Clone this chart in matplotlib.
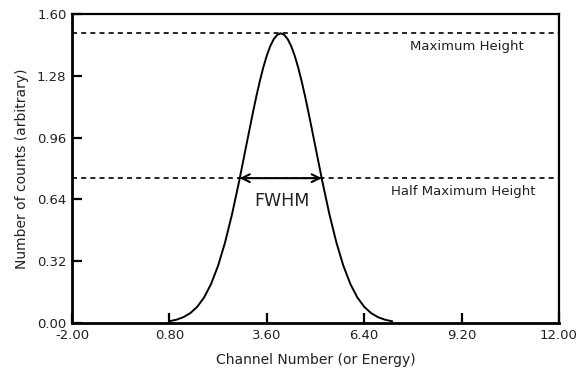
import matplotlib
matplotlib.use('Agg')
import matplotlib.pyplot as plt

plt.rcParams['font.family'] = ['DejaVu Sans']

# peak shape
channel = [0.8, 1.0, 1.2, 1.4, 1.6, 1.8, 2.0, 2.2, 2.4, 2.6, 2.8, 3.0, 3.2, 3.3, 3.4, 3.5,
           3.6, 3.7, 3.8, 3.9, 4.0, 4.1, 4.2, 4.3, 4.4, 4.5, 4.6, 4.7, 4.8, 5.0, 5.2, 5.4,
           5.6, 5.8, 6.0, 6.2, 6.4, 6.6, 6.8, 7.0, 7.2]
counts = [0.009, 0.017, 0.030, 0.051, 0.084, 0.133, 0.203, 0.297, 0.417, 0.563, 0.730, 0.910,
          1.089, 1.174, 1.253, 1.324, 1.385, 1.434, 1.470, 1.492, 1.500, 1.492, 1.470, 1.434,
          1.385, 1.324, 1.253, 1.174, 1.089, 0.910, 0.730, 0.563, 0.417, 0.297, 0.203, 0.133,
          0.084, 0.051, 0.030, 0.017, 0.009]

max_height = 1.50
half_height = 0.75
fwhm_left = 2.82
fwhm_right = 5.18

xticks = [-2.00, 0.80, 3.60, 6.40, 9.20, 12.00]
yticks = [0.00, 0.32, 0.64, 0.96, 1.28, 1.60]

fig = plt.figure(figsize=(5.77, 3.72), dpi=100)
ax = fig.add_axes([0.1248, 0.1317, 0.844, 0.8307])

ax.plot(channel, counts, color='black', lw=1.4)
ax.axhline(max_height, color='black', lw=1.2, ls=(0, (3, 2.5)))
ax.axhline(half_height, color='black', lw=1.2, ls=(0, (3, 2.5)))

ax.annotate('', xy=(fwhm_left, half_height), xytext=(fwhm_right, half_height),
            arrowprops=dict(arrowstyle='<->', color='black', lw=1.5,
                            shrinkA=0, shrinkB=0, mutation_scale=14))
ax.text(4.03, 0.63, 'FWHM', ha='center', va='center', fontsize=12.5, color='#222222')
ax.text(9.35, 1.43, 'Maximum Height', ha='center', va='center', fontsize=9.5, color='#222222')
ax.text(9.24, 0.68, 'Half Maximum Height', ha='center', va='center', fontsize=9.5,
        color='#222222')

ax.set_xlim(-2, 12)
ax.set_ylim(0, 1.6)
ax.set_xticks(xticks)
ax.set_yticks(yticks)
ax.set_xticklabels(['%.2f' % v for v in xticks])
ax.set_yticklabels(['%.2f' % v for v in yticks])
ax.tick_params(direction='in', length=7, width=1.6, labelsize=9.5, pad=4,
               labelcolor='#222222')

for side in ['left', 'bottom']:
    ax.spines[side].set_linewidth(2)
for side in ['top', 'right']:
    ax.spines[side].set_linewidth(1.6)

ax.set_xlabel('Channel Number (or Energy)', fontsize=10, labelpad=8, color='#222222')
ax.set_ylabel('Number of counts (arbitrary)', fontsize=10, labelpad=6, color='#222222')

fig.savefig('out.png', dpi=100)
